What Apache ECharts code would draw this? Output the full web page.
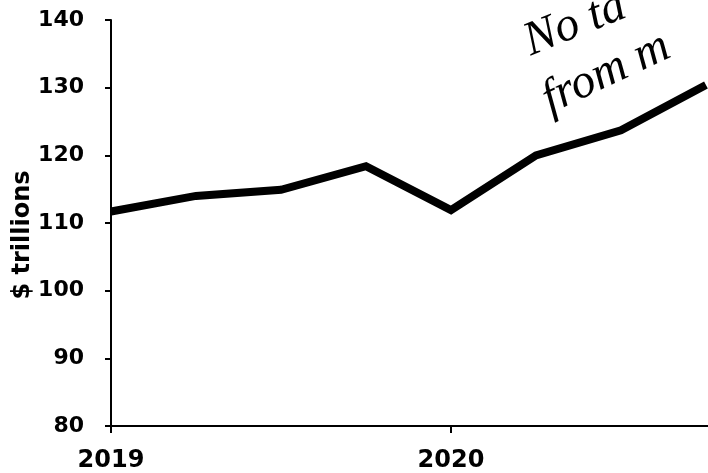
<!DOCTYPE html>
<html>
<head>
<meta charset="utf-8">
<script src="https://cdn.jsdelivr.net/npm/echarts@6/dist/echarts.min.js"></script>
<style>
html,body{margin:0;padding:0;background:#fff;}
#c{width:708px;height:473px;}
</style>
</head>
<body>
<div id="c"></div>
<script>
// Quarterly time points (fractional years) and values ($ trillions)
const quarters = [2019.0, 2019.25, 2019.5, 2019.75, 2020.0, 2020.25, 2020.5, 2020.75];
const values = [111.7, 114.0, 114.9, 118.4, 111.9, 120.0, 123.7, 130.4];
const yearTicks = [2019, 2020];
const yTicks = [80, 90, 100, 110, 120, 130, 140];
const yAxisName = '$ trillions';
const noteLine1 = 'No ta';
const noteLine2 = 'from m';

const chart = echarts.init(document.getElementById('c'), null, {renderer: 'canvas'});
const FONT = '"DejaVu Sans", Arial, sans-serif';

chart.setOption({
  animation: false,
  backgroundColor: '#fff',
  grid: {left: 111, right: 0, top: 20, bottom: 47, containLabel: false},
  xAxis: {
    type: 'value',
    min: 2019,
    max: 2020.756,
    interval: 1,
    splitLine: {show: false},
    axisLine: {show: true, lineStyle: {color: '#000', width: 2}},
    axisTick: {show: true, length: 7, lineStyle: {color: '#000', width: 2}, customValues: yearTicks},
    axisLabel: {margin: 23, customValues: yearTicks, formatter: v => String(Math.round(v)),
      color: '#000', fontFamily: FONT, fontWeight: 'bold', fontSize: 24}
  },
  yAxis: {
    type: 'value',
    min: yTicks[0],
    max: yTicks[yTicks.length - 1],
    interval: 10,
    splitLine: {show: false},
    axisLine: {show: true, onZero: false, lineStyle: {color: '#000', width: 2}},
    axisTick: {show: true, length: 6, lineStyle: {color: '#000', width: 2}},
    axisLabel: {margin: 27, color: '#000', fontFamily: FONT, fontWeight: 'bold', fontSize: 22}
  },
  series: [{
    type: 'line',
    data: quarters.map((q, i) => [q, values[i]]),
    showSymbol: false,
    symbol: 'none',
    lineStyle: {color: '#000', width: 8, join: 'miter'},
    clip: false
  }],
  graphic: [
    {type: 'text', x: 23, y: 235, rotation: Math.PI / 2,
     style: {text: yAxisName, font: 'bold 24px "DejaVu Sans", sans-serif', fill: '#000', align: 'center', verticalAlign: 'middle'}},
    {type: 'text', x: 535, y: 66, rotation: 0.38,
     style: {text: noteLine1, font: 'italic 48px "Liberation Serif", serif', fill: '#000', verticalAlign: 'bottom'}},
    {type: 'text', x: 555, y: 124, rotation: 0.44,
     style: {text: noteLine2, font: 'italic 48px "Liberation Serif", serif', fill: '#000', verticalAlign: 'bottom'}}
  ]
});
</script>
</body>
</html>
